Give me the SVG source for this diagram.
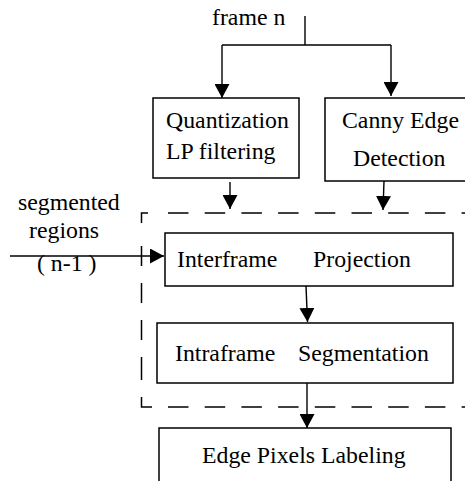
<svg xmlns="http://www.w3.org/2000/svg" width="465" height="481" viewBox="0 0 465 481">
<style>
text{font-family:"Liberation Serif","Times New Roman",serif;font-size:23.8px;fill:#000}
.box{fill:#fff;stroke:#000;stroke-width:1.5}
.ln{fill:none;stroke:#000;stroke-width:1.4}
.dash{fill:none;stroke:#000;stroke-width:1.5}
</style>
<defs>
<marker id="ah" viewBox="0 0 14 15" refX="14" refY="7.5" markerWidth="14" markerHeight="15" markerUnits="userSpaceOnUse" orient="auto">
<path d="M0,0 L14,7.5 L0,15 Z" fill="#000"/>
</marker>
</defs>
<rect width="465" height="481" fill="#fff"/>
<g id="dashed-frame">
<path class="dash" d="M148 213 H141.5 V223"/>
<path class="dash" d="M168 213 H470" stroke-dasharray="20.5 16.2"/>
<path class="dash" d="M141.5 246 V266 M141.5 283 V303 M141.5 320 V340 M141.5 357 V380"/>
<path class="dash" d="M141.5 397 V407 H152"/>
<path class="dash" d="M168 407 H470" stroke-dasharray="20.5 16.2"/>
</g>
<g id="connectors">
<path class="ln" d="M305 16 V45 M222 45 H391"/>
<path class="ln" d="M222 45 V98" marker-end="url(#ah)"/>
<path class="ln" d="M391 45 V96" marker-end="url(#ah)"/>
<path class="ln" d="M230 182 V209" marker-end="url(#ah)"/>
<path class="ln" d="M384 181 L383 210" marker-end="url(#ah)"/>
<path class="ln" d="M10 256 H164" marker-end="url(#ah)"/>
<path class="ln" d="M306 286 L307.5 322" marker-end="url(#ah)"/>
<path class="ln" d="M307 383 V428" marker-end="url(#ah)"/>
</g>
<g id="label-frame-n"><text x="212" y="25">frame n</text></g>
<g id="label-segmented">
<text x="18" y="210">segmented</text>
<text x="29" y="238">regions</text>
<text x="37" y="271">( n-1 )</text>
</g>
<g id="node-quantization">
<rect class="box" x="153" y="98" width="146" height="80"/>
<text x="166" y="128">Quantization</text>
<text x="166" y="159">LP filtering</text>
</g>
<g id="node-canny">
<rect class="box" x="325" y="98" width="145" height="83"/>
<text x="342" y="128">Canny Edge</text>
<text x="353" y="166">Detection</text>
</g>
<g id="node-interframe">
<rect class="box" x="165" y="233" width="288" height="53"/>
<text x="177" y="267">Interframe</text>
<text x="313" y="267">Projection</text>
</g>
<g id="node-intraframe">
<rect class="box" x="157" y="323" width="296" height="60"/>
<text x="175" y="361">Intraframe</text>
<text x="298" y="361">Segmentation</text>
</g>
<g id="node-edge-pixels">
<rect class="box" x="159" y="428" width="292" height="60"/>
<text x="202" y="463">Edge Pixels Labeling</text>
</g>
</svg>
